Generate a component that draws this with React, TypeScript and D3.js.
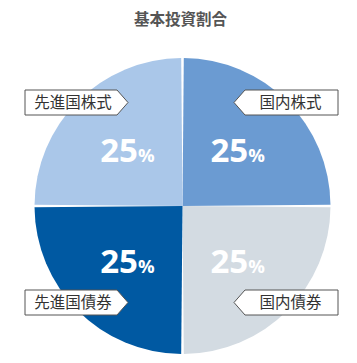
import React from "react";
import * as d3 from "d3";

const title = "基本投資割合";
const categories = ["国内株式", "国内債券", "先進国債券", "先進国株式"];
const values = [25, 25, 25, 25];
const colors = ["#6b9bd2", "#d3dbe2", "#0059a2", "#aac7e9"];

const W = 357;
const H = 363;
const cx = 182.5;
const cy = 206;
const R = 148;
const GAP = 2.6;

export default function App() {
  const pie = d3.pie<number>().sort(null).value((d) => d);
  const arcs = pie(values);
  const arc = d3
    .arc<d3.PieArcDatum<number>>()
    .innerRadius(0)
    .outerRadius(R)
    .padRadius(R)
    .padAngle(GAP / R);
  const labelArc = d3.arc<d3.PieArcDatum<number>>().innerRadius(78).outerRadius(78);
  const fmt = d3.format("d");

  return (
    <svg width={W} height={H} style={{ position: "absolute", left: 0, top: 0 }}>
      <rect width={W} height={H} fill="#fff" />
      <text
        x={180.5}
        y={25}
        textAnchor="middle"
        fontFamily="'Noto Sans CJK JP', sans-serif"
        fontWeight={700}
        fontSize={15.5}
        fill="#555"
      >
        {title}
      </text>
      <g transform={`translate(${cx},${cy})`}>
        {arcs.map((a, i) => (
          <path key={i} d={arc(a) || ""} fill={colors[i]} />
        ))}
        {arcs.map((a, i) => {
          const [x, y] = labelArc.centroid(a);
          return (
            <text
              key={"p" + i}
              x={x}
              y={y + 11.5}
              textAnchor="middle"
              fill="#fff"
              fontFamily="'Open Sans', sans-serif"
              fontWeight={700}
            >
              <tspan fontSize={33}>{fmt(a.data)}</tspan>
              <tspan fontSize={18.5}>%</tspan>
            </text>
          );
        })}
      </g>
      {arcs.map((a, i) => {
        const mid = (a.startAngle + a.endAngle) / 2;
        const right = Math.sin(mid) > 0;
        const top = Math.cos(mid) > 0;
        const midY = top ? 102.5 : 302.5;
        const hh = 12.5;
        let pts: [number, number][];
        let tx: number;
        if (right) {
          const tip = 234, l = 245, r = 338;
          pts = [[tip, midY], [l, midY - hh], [r, midY - hh], [r, midY + hh], [l, midY + hh]];
          tx = (l + r) / 2 - 1;
        } else {
          const l = 25, r = 117, tip = 128;
          pts = [[l, midY - hh], [r, midY - hh], [tip, midY], [r, midY + hh], [l, midY + hh]];
          tx = (l + r) / 2 + 2;
        }
        return (
          <g key={"l" + i}>
            <polygon
              points={pts.map((p) => p.join(",")).join(" ")}
              fill="#fff"
              stroke="#555"
              strokeWidth={1}
            />
            <text
              x={tx}
              y={midY + 5.5}
              textAnchor="middle"
              fontFamily="'Noto Sans CJK JP', sans-serif"
              fontSize={15.5}
              fill="#333"
            >
              {categories[i]}
            </text>
          </g>
        );
      })}
    </svg>
  );
}
